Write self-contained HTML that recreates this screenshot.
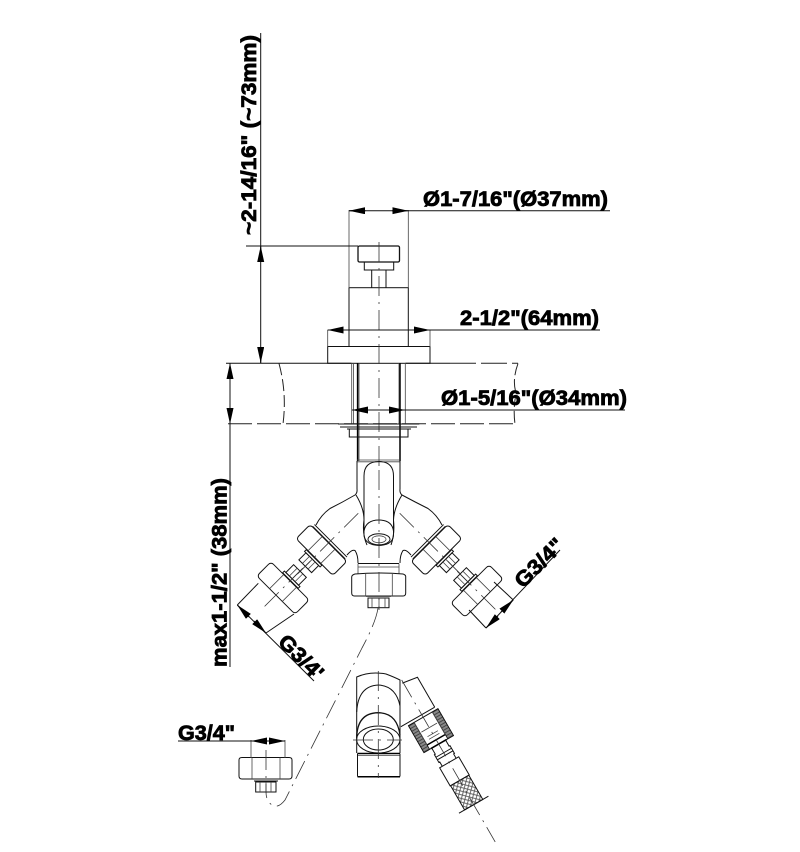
<!DOCTYPE html>
<html><head><meta charset="utf-8"><style>
html,body{margin:0;padding:0;background:#fff}
svg{display:block}
text{font-family:"Liberation Sans",sans-serif;font-weight:bold;font-size:21px;fill:#000;stroke:#000;stroke-width:.8}
.l{fill:none;stroke:#111;stroke-width:1}
.t{fill:none;stroke:#444;stroke-width:.8}
.b{fill:none;stroke:#000;stroke-width:1.5}
.c{fill:none;stroke:#333;stroke-width:.8;stroke-dasharray:20 6 2 6}
.d{fill:none;stroke:#222;stroke-width:1;stroke-dasharray:26 5}
</style></head><body>
<svg width="800" height="852" viewBox="0 0 800 852" xmlns="http://www.w3.org/2000/svg">
<defs>
<marker id="a" markerUnits="userSpaceOnUse" markerWidth="18" markerHeight="8" refX="16" refY="3.500" orient="auto"><path d="M0 0L16 3.500L0 7z" fill="#000"/></marker>
<pattern id="br" width="5" height="5" patternUnits="userSpaceOnUse"><path d="M0 0L5 5M5 0L0 5" stroke="#555" stroke-width=".9"/></pattern>
<pattern id="ht" width="3" height="3" patternUnits="userSpaceOnUse"><rect width="3" height="3" fill="#888"/><path d="M0 1.500H3" stroke="#333" stroke-width=".8"/></pattern>
<g id="up">
<rect x="-26" y="-10" width="52" height="20" rx="3.500" class="l"/>
<path class="t" d="M-9 -10V10M9 -10V10"/>
<path class="l" d="M-23 -13H23M-23 -10.500H23"/>
<rect x="-11" y="10.500" width="22" height="2.500" class="l"/>
<rect x="-9" y="13" width="18" height="10" class="l"/>
<path class="t" d="M-4 13V23M0 13V23M4 13V23"/>
<path class="c" d="M0 -52V34"/>
</g>
<g id="lo">
<rect x="-27" y="-10" width="54" height="20" rx="3.500" class="l"/>
<path class="t" d="M-9 -10V10M9 -10V10"/>
<rect x="-11" y="-13" width="22" height="2.500" class="l"/>
<rect x="-9" y="-24" width="18" height="11" class="l"/>
<path class="t" d="M-4 -24V-13M0 -24V-13M4 -24V-13"/>
<path class="c" d="M0 -28V30"/>
</g>
</defs>

<!-- top knob and body -->
<g>
<rect x="358" y="246" width="41.500" height="16" rx="1.500" class="l" style="stroke-width:1.300"/>
<path class="l" d="M364.300 262V270H393.700V262M371.700 270V287.700M386 270V287.700"/>
<rect x="349" y="287.700" width="59.300" height="58.800" class="l"/>
<rect x="327.700" y="346.500" width="102.300" height="16.800" class="l"/>
</g>
<path class="t" d="M349 210V288M408.300 210V288M327.700 330V347M430 330V347"/>
<path class="c" d="M379 242V470"/>

<!-- deck -->
<path class="l" d="M226 363.300H351.500M405.500 363.300H450"/>
<path class="d" d="M450 363.300H518"/>
<path class="d" d="M228 423.700H515" style="stroke-dasharray:24 5"/>
<path class="d" d="M279 363.500Q287 393 283 424" style="stroke-dasharray:12 4"/>
<path class="d" d="M518 363.500Q512 380 516 393Q513 410 515 424" style="stroke-dasharray:12 4"/>

<!-- tube -->
<path class="t" d="M351.700 363V424M353.500 363V424M399 363V424M405.300 363V424"/>
<path class="b" d="M357.600 363V461M400 363V461"/>
<path class="t" d="M359 363V461"/>
<path class="l" d="M338 424H419.300M340 427H417M347 429H411"/>
<rect x="349.300" y="429" width="58.700" height="8" class="l"/>
<path class="t" d="M357 460H400M357 461.800H400"/>

<!-- Y body -->
<path class="l" d="M357 461V489Q357.500 493 355 495Q343 502 330 508.500Q321 515 316 525"/>
<path class="l" d="M400 461V489Q399.500 493 402 495Q415 502 428 508.500Q437 515 442 525"/>
<path class="l" d="M347 555Q352 549 355 550.500Q358 555 358 563M411 555Q406 549 403 550.500Q400 555 400 563"/>
<path class="l" d="M356 495Q364 508 364 520Q362 534 367 545M402 495Q394 508 393.500 520Q395 534 391 545"/>
<path class="l" d="M364 530V476Q364 461.500 379 461.500Q393.500 461.500 393.500 476V530"/>
<path class="l" d="M364 531Q366 520 379 520Q392 520 393.500 531M364 535Q365 545 379 545.500Q393 545 393.500 535V530M364 530V535"/>
<ellipse cx="379" cy="539.300" rx="11" ry="5.500" class="l"/>
<ellipse cx="379" cy="539.300" rx="7" ry="3.500" class="t"/>
<path class="l" d="M358 563.500H399"/>
<path class="t" d="M358 567H399M358 574V563.500M399 574V563.500"/>
<path class="l" d="M355 574Q379 572 403 574Q406 575 405.700 577V593Q405.700 596 403 596H354.500Q351.700 596 351.700 593V577Q351.700 575 355 574Z"/>
<path class="t" d="M365.700 574V596M392.300 574V596"/>
<rect x="368" y="598" width="21" height="9.700" class="l"/>
<path class="t" d="M372 598V607.700M379 598V607.700M385 598V607.700M366 596.500H391"/>
<path class="c" d="M379 470V610"/>

<!-- arms nuts -->
<use href="#up" transform="translate(321.500,550) rotate(45)"/>
<use href="#up" transform="translate(436.500,550) rotate(-45)"/>
<use href="#lo" transform="translate(283,588) rotate(45)"/>
<use href="#lo" transform="translate(477,591) rotate(-45)"/>
<path class="l" d="M258.300 583.300L237.300 605M294 614L266 633"/>
<path class="l" d="M469 610L486 628M494 582L513.300 600"/>

<!-- dashed leader -->
<path class="c" d="M378 608Q376 622 362 648L285 800Q278 809 272 805Q266 801 266 792"/>

<!-- small fitting -->
<path class="l" d="M242 757.500H289Q292 757.500 292 760V776Q292 779 289 779H242Q239 779 239 776V760Q239 757.500 242 757.500Z"/>
<path class="t" d="M252 757.500V779M280 757.500V779M251 740V758M285 740V758"/>
<path class="l" d="M254 781H278"/>
<rect x="255.700" y="782" width="20.300" height="10" class="l"/>
<path class="t" d="M260 782V792M266 782V792M271 782V792"/>
<path class="c" d="M266 750V792"/>

<!-- detail: body -->
<path class="l" d="M356.700 753V677Q370 671 386 674Q394 677 400 680V753"/>
<path class="l" d="M356.700 712Q358 686 378.300 685Q396 686 400 706"/>
<path class="l" d="M356.700 738Q357 713 378.300 712.700Q397 713 400 735" style="stroke-width:1.300"/>
<ellipse cx="378.300" cy="739.500" rx="21.700" ry="13.500" class="l"/>
<ellipse cx="378.300" cy="739.500" rx="15" ry="10.500" class="l"/>
<path class="b" d="M357.500 753.500H400"/>
<path class="t" d="M357.500 755.500H400"/>
<path class="l" d="M357.500 753.500V776.500M400 753.500V776.500"/>
<path class="b" d="M357.500 776.700H400"/>
<path class="c" d="M378.300 671V778M353 740H402"/>

<!-- detail: hose -->
<g transform="translate(401.700,680) rotate(-30)">
<path class="l" d="M-1 3L15 5.500V40M-24 40H15"/>
<rect x="-17" y="43" width="34" height="31" class="l"/>
<path d="M-17 43h6.500v31h-6.500zM10.500 43h6.500v31h-6.500z" fill="url(#ht)" stroke="#111" stroke-width=".8"/>
<path class="b" d="M-10.500 69H10.500M-9 74H9"/>
<path class="t" d="M-9 55H9M-10.500 43V69M10.500 43V69M-6 62H6M-6 65H6"/>
<path class="l" d="M-8 74V81H-9V90H-8V95M8 74V81H9V90H8V95M-9 84H9M-9 87H9"/>
<rect x="-11" y="95" width="22" height="21" class="l"/>
<rect x="-10.500" y="116" width="21" height="28" fill="url(#br)" stroke="#111" stroke-width="1"/>
<path class="l" d="M-17 144H17"/>
<path class="c" d="M0 0V187"/>
</g>

<!-- dimensions -->
<path class="l" d="M349 210.700H610M327.700 330H600M352 410H625M260.700 33V363M230 363V667M246 246H358"/>
<path class="l" d="M178 741H285M237.300 605L314 681M486 628L560 550"/>
<g class="l">
<line x1="365.700" y1="210.700" x2="349" y2="210.700" marker-end="url(#a)"/>
<line x1="392" y1="210.700" x2="408.300" y2="210.700" marker-end="url(#a)"/>
<line x1="344" y1="330" x2="327.700" y2="330" marker-end="url(#a)"/>
<line x1="414" y1="330" x2="430" y2="330" marker-end="url(#a)"/>
<line x1="368" y1="410" x2="352" y2="410" marker-end="url(#a)"/>
<line x1="389" y1="410" x2="405" y2="410" marker-end="url(#a)"/>
<line x1="260.700" y1="262" x2="260.700" y2="246" marker-end="url(#a)"/>
<line x1="260.700" y1="347" x2="260.700" y2="363" marker-end="url(#a)"/>
<line x1="230" y1="380" x2="230" y2="363" marker-end="url(#a)"/>
<line x1="230" y1="407" x2="230" y2="424" marker-end="url(#a)"/>
<line x1="266" y1="741" x2="251" y2="741" marker-end="url(#a)"/>
<line x1="270" y1="741" x2="285" y2="741" marker-end="url(#a)"/>
<line x1="249" y1="617" x2="237.300" y2="605" marker-end="url(#a)"/>
<line x1="254" y1="621" x2="266" y2="633" marker-end="url(#a)"/>
<line x1="498" y1="616" x2="486" y2="628" marker-end="url(#a)"/>
<line x1="501" y1="612" x2="513.300" y2="600" marker-end="url(#a)"/>
</g>

<!-- labels -->
<text x="423" y="206" textLength="185" lengthAdjust="spacingAndGlyphs">Ø1-7/16"(Ø37mm)</text>
<text x="460" y="325" textLength="139" lengthAdjust="spacingAndGlyphs">2-1/2"(64mm)</text>
<text x="441" y="405" textLength="186" lengthAdjust="spacingAndGlyphs">Ø1-5/16"(Ø34mm)</text>
<text transform="translate(256,235) rotate(-90)" textLength="200" lengthAdjust="spacingAndGlyphs">~2-14/16" (~73mm)</text>
<text transform="translate(226.500,667) rotate(-90)" textLength="189" lengthAdjust="spacingAndGlyphs">max1-1/2" (38mm)</text>
<text x="178" y="740" textLength="57" lengthAdjust="spacingAndGlyphs">G3/4"</text>
<text transform="translate(277,643) rotate(45)" textLength="54" lengthAdjust="spacingAndGlyphs">G3/4'</text>
<text transform="translate(523,589) rotate(-45)" textLength="60" lengthAdjust="spacingAndGlyphs">G3/4"</text>
</svg>
</body></html>
